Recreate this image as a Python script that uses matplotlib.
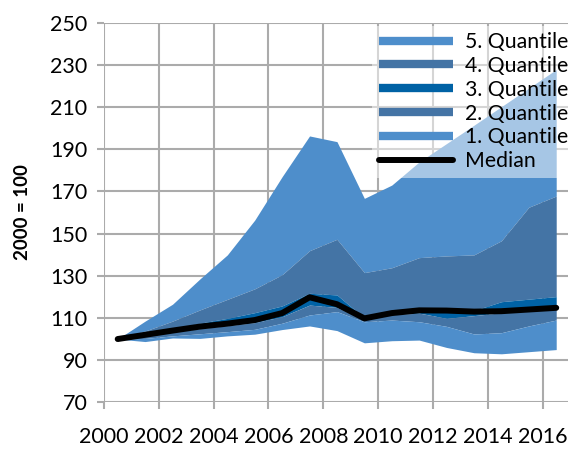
import matplotlib
matplotlib.use("Agg")
import matplotlib.pyplot as plt
from matplotlib.lines import Line2D
import numpy as np

plt.rcParams['font.family'] = ['Lato', 'DejaVu Sans']

years = list(range(2000, 2017))
median = [100, 102, 104, 105.9, 107.3, 109, 112.3, 119.8, 116.5, 109.8, 112.3, 113.6, 113.5, 113, 113.2, 114, 114.8]
q5_top = [100, 108.5, 116.5, 128.5, 139.9, 156.4, 177, 196.3, 193.6, 166.7, 173, 184, 192.7, 201.4, 210.2, 219, 227.8]
q4_top = [100, 103.8, 108.5, 113.8, 118.8, 123.8, 130.5, 141.9, 147.3, 131.5, 133.8, 138.6, 139.4, 139.9, 146.6, 162.5, 167.8]
q3_top = [100, 102.3, 104.5, 107.5, 109.8, 112.5, 115.7, 121.7, 120.9, 110, 112.5, 113.8, 113.7, 113.5, 117.7, 118.9, 120.1]
q2_top = [100, 101.5, 103.3, 105, 106.3, 107.8, 110.6, 116.1, 115, 109.3, 111.5, 112.3, 109.8, 111.1, 112.5, 113.3, 114.2]
q1_top = [100, 100.3, 101.5, 102.5, 103.5, 104.6, 107.5, 111.4, 113, 108.2, 109, 108.2, 106, 102.4, 103, 106.2, 109]
q1_bot = [100, 98.8, 100.5, 100.3, 101.5, 102.3, 104.5, 106.2, 104, 98.2, 99.2, 99.5, 96, 93.5, 93, 94, 95]

labels = ["5. Quantile", "4. Quantile", "3. Quantile", "2. Quantile", "1. Quantile", "Median"]
yticks = list(range(70, 251, 20))
xticks = list(range(2000, 2017, 2))

c_light = "#4e8ecb"
c_steel = "#4474a5"
c_dark = "#0062a5"

x = np.array(years) + 0.5

fig = plt.figure(figsize=(5.68, 4.5), dpi=100)
ax = fig.add_axes([104/568, 1 - 402.3/450, 464/568, (402.3 - 22.7)/450])

bands = [(q4_top, q5_top, c_light), (q3_top, q4_top, c_steel), (q2_top, q3_top, c_dark),
         (q1_top, q2_top, c_steel), (q1_bot, q1_top, c_light)]
for lo, hi, col in bands:
    ax.fill_between(x, lo, hi, color=col, linewidth=0, zorder=2)
ax.plot(x, median, color='black', lw=4.3, solid_capstyle='round', solid_joinstyle='round', zorder=3)

ax.set_xlim(2000, 2016.93)
ax.set_ylim(70, 250)
ax.set_xticks(xticks)
ax.set_yticks(yticks)
ax.grid(True, color='#ababab', lw=1.5)
ax.set_axisbelow(True)
for s in ax.spines.values():
    s.set_visible(False)
ax.tick_params(axis='both', colors='#ababab', length=5, width=1.5, labelcolor='black', labelsize=15.5)
ax.tick_params(axis='x', pad=13)
ax.tick_params(axis='y', pad=7)
ax.set_ylabel("2000 = 100", fontsize=13.5, fontweight='bold', labelpad=14)

handles = [Line2D([0], [0], color=c, lw=6, solid_capstyle='butt') for c in [c_light, c_steel, c_dark, c_steel, c_light]]
handles.append(Line2D([0], [0], color='black', lw=4.3, solid_capstyle='round'))
leg = ax.legend(handles, labels, loc='upper right', bbox_to_anchor=(1 + 7/464, 1 - 3/379.6), borderaxespad=0,
                frameon=True, fancybox=False, facecolor='white', edgecolor='none', framealpha=0.5,
                fontsize=15.3, handlelength=3.5, handletextpad=0.58, labelspacing=0.18, borderpad=0.3)

fig.savefig("out.png", dpi=100)
